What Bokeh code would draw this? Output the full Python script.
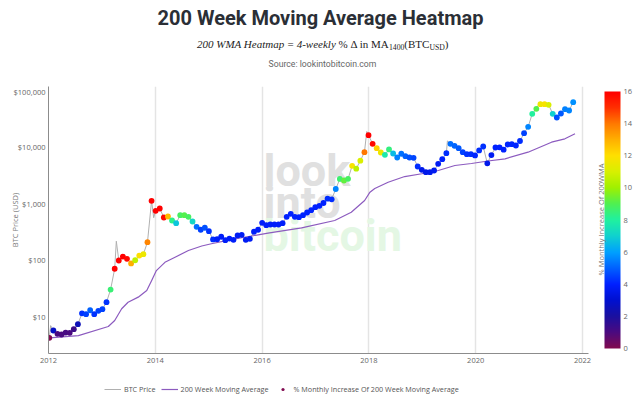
import math
import pandas as pd
from bokeh.plotting import figure
from bokeh.layouts import column
from bokeh.models import (Range1d, FixedTicker, NumeralTickFormatter, LinearColorMapper,
                          ColorBar, Label, Legend, LegendItem, ColumnDataSource)
from bokeh.transform import linear_cmap
from bokeh.embed import file_html
from bokeh.resources import INLINE

# ---------------- data ----------------
dot_dates = pd.date_range("2012-01-06", periods=129, freq="28D")

btc_price = [4.2, 5.65, 4.94, 4.8, 5.2, 5.15, 5.96, 7.3, 11.4, 11.0,
             12.9, 11.0, 12.6, 13.5, 17.9, 30, 70, 98, 115, 105,
             87, 99, 120, 127, 207, 1117, 743, 816, 565, 589,
             500, 448, 621, 621, 582, 480, 387, 343, 372, 324,
             231, 234, 258, 224, 240, 228, 272, 279, 228, 237,
             316, 343, 455, 413, 425, 425, 425, 448, 582, 658,
             582, 572, 621, 693, 761, 861, 910, 1020, 1217, 1187,
             1806, 2717, 2553, 2736, 4648, 4130, 5725, 8094, 16180, 11400,
             9530, 8000, 7280, 9040, 7680, 6520, 7590, 6880, 6520, 6440,
             4520, 3950, 3580, 3580, 3840, 5040, 6090, 7770, 11400, 10500,
             9530, 8090, 7460, 7460, 7080, 8680, 10210, 5150, 7210, 9800,
             9880, 8960, 11070, 11220, 10640, 12770, 17540, 22790, 38700, 47460,
             57240, 57240, 55870, 38700, 33270, 39170, 46700, 44260, 62100]

wma_monthly_pct = [0.0, 2.8, 1.0, 1.0, 1.1, 1.0, 1.3, 2.5, 4.3, 4.5,
                   5.0, 4.3, 4.5, 4.5, 4.3, 8.5, 16, 16, 16, 15.8,
                   13, 10.5, 12, 11.5, 13.8, 16, 16, 16, 15.8, 12.8,
                   8.3, 6.8, 8.8, 9.0, 8.8, 7.2, 5.2, 4.5, 4.8, 4.3,
                   4.2, 3.9, 3.9, 3.9, 3.9, 3.9, 3.8, 3.8, 3.8, 3.8,
                   3.9, 3.9, 3.9, 3.9, 3.9, 3.9, 3.9, 3.9, 4.0, 4.0,
                   4.0, 4.0, 4.0, 4.0, 4.0, 4.0, 4.0, 4.0, 4.2, 4.2,
                   5.6, 8.6, 9.2, 8.8, 11.8, 10.5, 11.0, 14, 16, 15.8,
                   12.3, 11.5, 7.8, 8.4, 6.6, 5.5, 5.3, 5.0, 4.8, 4.6,
                   4.2, 3.6, 3.5, 3.6, 3.7, 3.8, 4.0, 4.2, 5.2, 5.1,
                   4.9, 4.5, 4.3, 4.2, 4.1, 4.2, 4.3, 3.6, 3.8, 4.0,
                   4.0, 4.0, 4.1, 4.1, 4.1, 4.2, 4.5, 5.6, 8.0, 9.0,
                   11.6, 11.8, 11.0, 7.0, 4.8, 4.9, 5.5, 5.6, 5.8]

# extra intra-period extremes of the BTC price line (decimal year, USD)
spike_years = [2012.04, 2013.27, 2013.97, 2017.96, 2019.47, 2021.21]
spike_prices = [6.9, 215, 560, 18800, 12800, 63000]

# 200 week moving average (decimal year, USD)
wma_years = [2012.02, 2012.56, 2013.12, 2013.24, 2013.37, 2013.49, 2013.68, 2013.84,
             2013.93, 2014.02, 2014.18, 2014.37, 2014.62, 2014.87, 2015.05, 2015.49,
             2016.11, 2016.74, 2017.36, 2017.67, 2017.92, 2018.02, 2018.11, 2018.36,
             2018.67, 2018.99, 2019.30, 2019.61, 2019.92, 2020.23, 2020.55, 2020.98,
             2021.42, 2021.67, 2021.86]
wma_values = [4.2, 4.6, 6.65, 8.5, 13.7, 17.9, 22, 28.8,
              43, 65, 91, 112, 147, 177, 194, 237,
              298, 371, 500, 702, 1130, 1585, 1840, 2380,
              3000, 3360, 3840, 4710, 5110, 5650, 6180, 8090,
              12170, 13970, 17130]

year_ticks = [2012, 2014, 2016, 2018, 2020, 2022]
price_ticks = [10, 100, 1000, 10000, 100000]
pct_ticks = [0, 2, 4, 6, 8, 10, 12, 14, 16]

# ---------------- layout (page pixels) ----------------
W, H = 640, 399
HEADER_H, FOOTER_H = 86, 26
MAIN_H = H - HEADER_H - FOOTER_H
FL, FT, FB = 48, 86, 353          # plot frame (page coordinates)
PPX, PPY = 53.4, 56.5             # px per year, px per decade
X0 = 2012.0
X1 = X0 + (W - FL) / PPX
LB = 1 - (FB - 316) / PPY
LT = 1 + (316 - FT) / PPY


def X(px):
    return X0 + (px - FL) / PPX


def Y(py):
    return 10 ** (LB + (FB - py) / PPY)


def dec_year(d):
    n = 366 if d.is_leap_year else 365
    return d.year + (d.dayofyear - 0.5) / n


dot_x = [dec_year(d) for d in dot_dates]

line_pts = sorted(list(zip(dot_x, btc_price)) + list(zip(spike_years, spike_prices)))
line_x = [a for a, b in line_pts]
line_y = [b for a, b in line_pts]

stops = ["#800a50", "#4a0a80", "#1a10a0", "#0010d0", "#0020ff", "#0060ff", "#00a0ff",
         "#10d0d0", "#20f0a0", "#50f050", "#a0f000", "#d8f000", "#ffe000", "#ffb000",
         "#ff7a00", "#ff3000", "#ff0000"]


def hex2rgb(h):
    return [int(h[i:i + 2], 16) for i in (1, 3, 5)]


palette = []
for k in range(256):
    t = k / 255 * (len(stops) - 1)
    i0 = min(int(t), len(stops) - 2)
    f = t - i0
    a, b = hex2rgb(stops[i0]), hex2rgb(stops[i0 + 1])
    palette.append("#%02x%02x%02x" % tuple(round(a[j] + (b[j] - a[j]) * f) for j in range(3)))

TICK_FONT = "Open Sans"
GRAY = "#666666"
DOT_COLOR0 = palette[0]
BTC_COLOR = "#b0b0b0"
WMA_COLOR = "#8c5bbf"
DOT_SIZE = 5.8
NB = "\u00a0"

# all figures in the column share the same left/right borders (bokeh aligns them)
BORDERS = dict(min_border_left=FL, min_border_right=0)

# ---------------- header ----------------
hdr = figure(width=W, height=HEADER_H, output_backend="svg", toolbar_location=None,
             x_range=Range1d(FL, W), y_range=Range1d(HEADER_H, 0),
             x_axis_location=None, y_axis_location=None,
             min_border_top=0, min_border_bottom=0, **BORDERS)
hdr.grid.visible = False
hdr.outline_line_color = None

hdr.add_layout(Label(x=320, y=17.5, text="200 Week Moving Average Heatmap",
                     text_font="Roboto", text_font_style="bold", text_font_size="20px",
                     text_color="#2b2f36", text_align="center", text_baseline="middle"))
hdr.add_layout(Label(x=322, y=63.5, text="Source: lookintobitcoin.com", text_font="Roboto",
                     text_font_size="8.7px", text_color=GRAY,
                     text_align="center", text_baseline="middle"))

FS = 11.0
SUB = 0.7
pieces = [  # text, style, scale, width_em, drop (px)
    ("200 WMA Heatmap", "italic", 1.0, 7.943, 0),
    ("=", "normal", 1.0, 1.12, 0),
    ("4-weekly", "italic", 1.0, 3.554, 0),
    (NB + "%" + NB + "\u0394 in MA", "normal", 1.0, 4.834, 0),
    ("1400", "normal", SUB, 2.0, 3),
    ("(BTC", "normal", 1.0, 2.278, 0),
    ("USD", "normal", SUB, 2.0, 3),
    (")", "normal", 1.0, 0.333, 0),
]
px = 196.5
for txt, style, sc, w_em, drop in pieces:
    w = w_em * FS * sc
    xx = px + (0.278 * FS if txt == "=" else 0)
    hdr.add_layout(Label(x=xx, y=43.5 + drop, text=txt,
                         text_font="Liberation Serif", text_font_style=style,
                         text_font_size="%.1fpx" % (FS * sc), text_color="#222222",
                         text_baseline="middle"))
    px += w

# ---------------- main plot ----------------
p = figure(width=W, height=MAIN_H, output_backend="svg", toolbar_location=None,
           y_axis_type="log",
           x_range=Range1d(X0, X1), y_range=Range1d(10 ** LB, 10 ** LT),
           min_border_top=0, min_border_bottom=MAIN_H - (FB - FT), **BORDERS)
p.outline_line_color = None
p.background_fill_color = "white"

p.xaxis.ticker = FixedTicker(ticks=year_ticks)
p.xaxis.formatter = NumeralTickFormatter(format="0")
p.xaxis.bounds = (X0, X(588))
p.yaxis.ticker = FixedTicker(ticks=price_ticks)
p.yaxis.formatter = NumeralTickFormatter(format="$0,0")
for ax in (p.xaxis, p.yaxis):
    ax.major_label_text_font = TICK_FONT
    ax.major_label_text_font_size = "7.5px"
    ax.major_label_text_color = GRAY
    ax.major_tick_line_color = None
    ax.minor_tick_line_color = None
    ax.major_tick_out = 0
    ax.major_tick_in = 0
    ax.minor_tick_out = 0
    ax.axis_line_color = "#8c8c8c"
p.xaxis.major_label_standoff = 4
p.yaxis.major_label_standoff = 3
p.yaxis.axis_label = "BTC Price (USD)"
p.yaxis.axis_label_text_font = TICK_FONT
p.yaxis.axis_label_text_font_size = "7.5px"
p.yaxis.axis_label_text_font_style = "normal"
p.yaxis.axis_label_text_color = "#777777"
p.yaxis.axis_label_standoff = -9
p.ygrid.visible = False
p.xgrid.ticker = FixedTicker(ticks=year_ticks[1:])
p.xgrid.grid_line_color = "#e4e4e4"
p.xgrid.grid_line_width = 1.5

# watermark
wm = [("look", 169.5, "#e0e0e0"), ("into", 201.5, "#e0e0e0"), ("bitcoin", 234.5, "#e4f7e4")]
for txt, py, col in wm:
    p.add_layout(Label(x=X(263), y=Y(py), text=txt, text_font="Roboto", text_font_style="bold",
                       text_font_size="45px", text_color=col, text_baseline="middle",
                       level="underlay"))

r_btc = p.line(line_x, line_y, line_color=BTC_COLOR, line_width=1)
r_wma = p.line(wma_years, wma_values, line_color=WMA_COLOR, line_width=1.2)
src = ColumnDataSource(dict(x=dot_x, y=btc_price, v=wma_monthly_pct))
r_dots = p.scatter("x", "y", source=src, size=DOT_SIZE, line_color=None,
                   fill_color=linear_cmap("v", palette, 0, 16))

# colour bar (location = bottom-left corner, relative to the frame)
mapper = LinearColorMapper(palette=palette, low=0, high=16)
cb = ColorBar(color_mapper=mapper, location=(604 - FL, FB - 348), width=16, height=257,
              padding=0, margin=0, ticker=FixedTicker(ticks=pct_ticks),
              label_standoff=3, major_tick_line_color=None, bar_line_color=None,
              major_label_text_font=TICK_FONT, major_label_text_font_size="7.5px",
              major_label_text_color=GRAY, background_fill_color=None, border_line_color=None)
p.add_layout(cb)
p.add_layout(Label(x=X(600), y=Y(219), angle=math.pi / 2,
                   text="% Monthly Increase Of 200WMA", text_font=TICK_FONT,
                   text_font_size="7.5px", text_color="#777777",
                   text_align="center", text_baseline="middle"))

# ---------------- footer with legend ----------------
ftr = figure(width=W, height=FOOTER_H, output_backend="svg", toolbar_location=None,
             x_range=Range1d(0, 1), y_range=Range1d(0, 1),
             x_axis_location=None, y_axis_location=None,
             min_border_top=5, min_border_bottom=0, **BORDERS)
ftr.grid.visible = False
ftr.outline_line_color = None
nan = float("nan")
s_btc = ftr.line(x=[nan, nan], y=[nan, nan], line_color=BTC_COLOR, line_width=1)
s_wma = ftr.line(x=[nan, nan], y=[nan, nan], line_color=WMA_COLOR, line_width=1.2)
s_dot = ftr.scatter(x=[nan], y=[nan], size=DOT_SIZE, line_color=None, fill_color=DOT_COLOR0)
legend = Legend(items=[LegendItem(label="BTC Price", renderers=[s_btc]),
                       LegendItem(label="200 Week Moving Average", renderers=[s_wma]),
                       LegendItem(label="% Monthly Increase Of 200 Week Moving Average",
                                  renderers=[s_dot])],
                location="center_left", orientation="horizontal",
                label_text_font=TICK_FONT, label_text_font_size="7.2px", label_text_color="#555555",
                glyph_width=17, glyph_height=8, label_height=8, label_standoff=3, spacing=5,
                padding=0, margin=104 - FL, border_line_color=None, background_fill_alpha=0)
ftr.add_layout(legend)

page = column(hdr, p, ftr, spacing=0)
open("out.html", "w").write(file_html(page, INLINE))
